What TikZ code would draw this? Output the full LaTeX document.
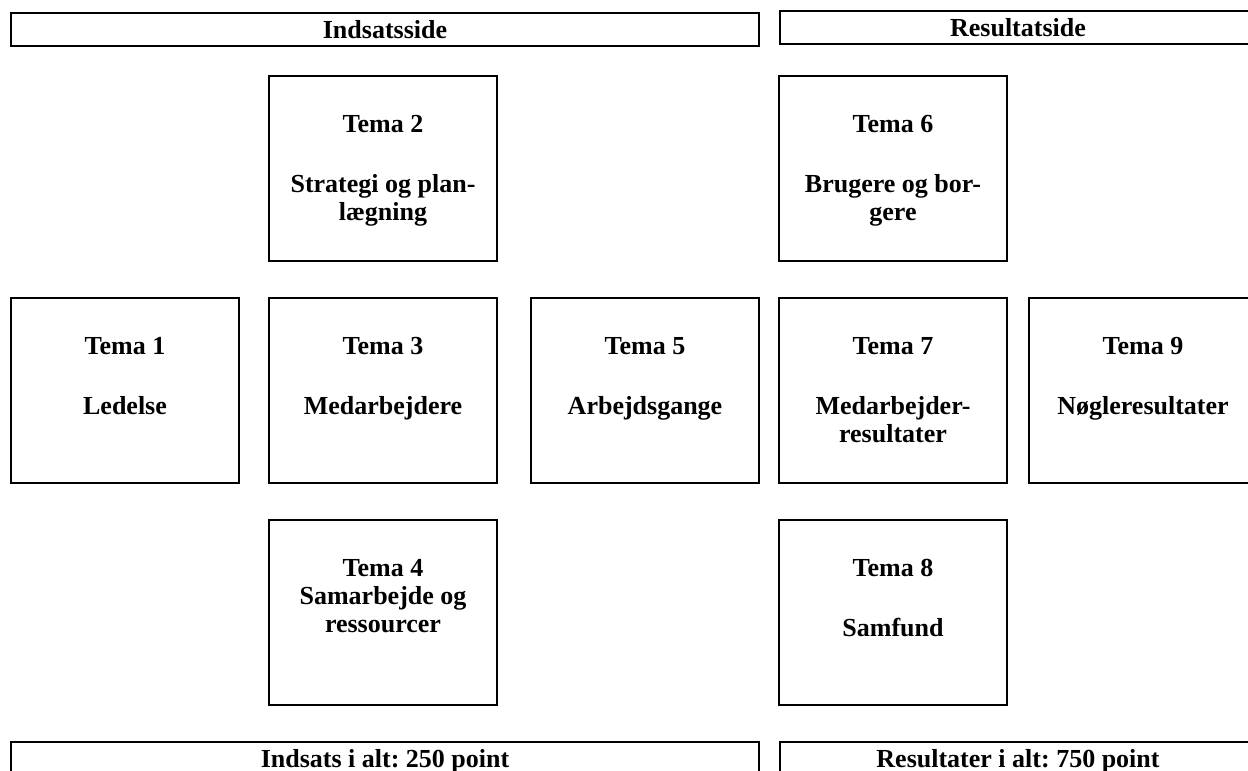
\documentclass[tikz,border=0pt]{standalone}
\usepackage{fontspec}
\setmainfont{Liberation Serif}
\frenchspacing
\newcommand{\tematext}[1]{\parbox[c][185pt][t]{228pt}{\centering\vspace*{39.5pt}\baselineskip=28pt #1\par}}
\begin{document}
\begin{tikzpicture}[x=1pt,y=-1pt,
  every node/.style={font=\fontsize{26pt}{28pt}\selectfont\bfseries},
  temabox/.style={draw=black,line width=1.4pt,inner sep=0pt,minimum width=228pt,minimum height=185pt},
  barbox/.style={draw=black,line width=1.4pt,inner sep=0pt,minimum height=33pt,text height=18pt,text depth=0pt}]
\useasboundingbox (0,0) rectangle (1248,771);
\clip (0,0) rectangle (1248,771);
% header / footer bars
\node[barbox,minimum width=748pt] (indsats) at (385,29.5) {Indsatsside};
\node[barbox,minimum width=476pt] (resultat) at (1018,27.5) {Resultatside};
\node[barbox,minimum width=748pt] (indsatsalt) at (385,758.5) {Indsats i alt: 250 point};
\node[barbox,minimum width=476pt] (resultatalt) at (1018,758.5) {Resultater i alt: 750 point};
% boxes: centers = left+114, top+92.5
\node[temabox] (t2) at (383,168.5) {\tematext{Tema 2\\[32pt]Strategi og plan-\\lægning}};
\node[temabox] (t6) at (893,168.5) {\tematext{Tema 6\\[32pt]Brugere og bor-\\gere}};
\node[temabox] (t1) at (125,390.5) {\tematext{Tema 1\\[32pt]Ledelse}};
\node[temabox] (t3) at (383,390.5) {\tematext{Tema 3\\[32pt]Medarbejdere}};
\node[temabox] (t5) at (645,390.5) {\tematext{Tema 5\\[32pt]Arbejdsgange}};
\node[temabox] (t7) at (893,390.5) {\tematext{Tema 7\\[32pt]Medarbejder-\\resultater}};
\node[temabox] (t9) at (1143,390.5) {\tematext{Tema 9\\[32pt]Nøgleresultater}};
\node[temabox] (t4) at (383,612.5) {\tematext{Tema 4\\Samarbejde og\\ressourcer}};
\node[temabox] (t8) at (893,612.5) {\tematext{Tema 8\\[32pt]Samfund}};
\end{tikzpicture}
\end{document}
